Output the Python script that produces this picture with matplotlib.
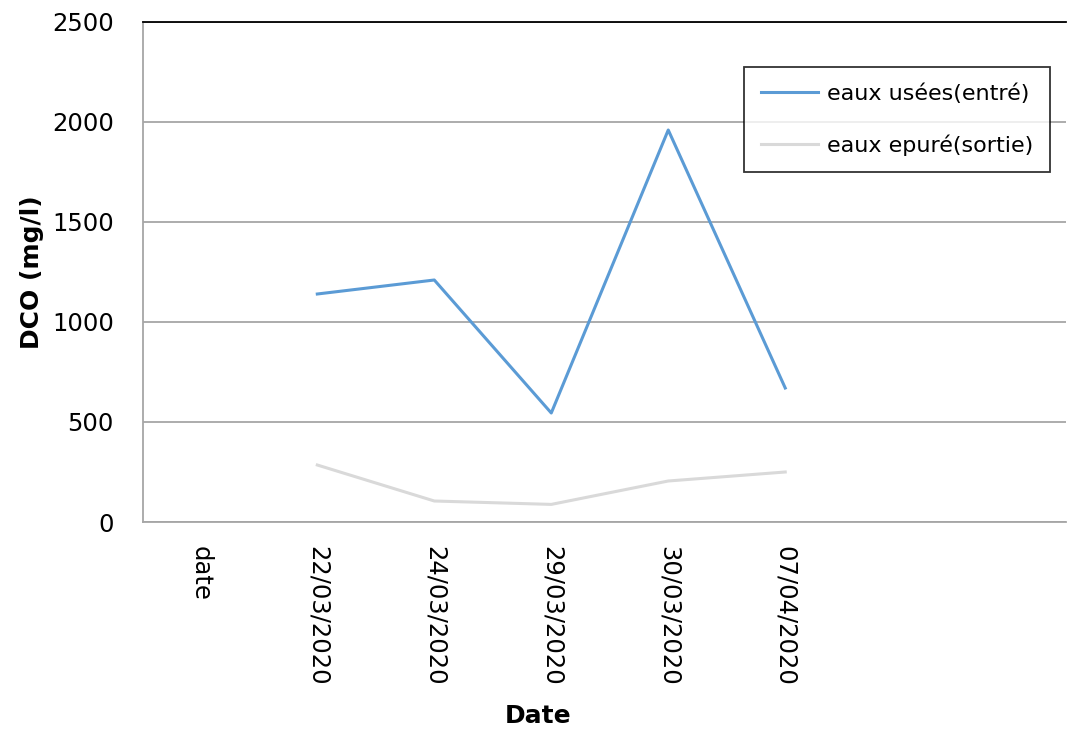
import matplotlib.pyplot as plt

categories = ['date', '22/03/2020', '24/03/2020', '29/03/2020', '30/03/2020', '07/04/2020']
entree = [None, 1140, 1210, 545, 1960, 670]
sortie = [None, 285, 105, 88, 205, 250]

plt.rcParams['font.family'] = ['DejaVu Sans']

fig = plt.figure(figsize=(10.69, 7.31), dpi=100)
ax = fig.add_axes([143 / 1069, 1 - 522 / 731, (1066 - 143) / 1069, 500 / 731])

x = list(range(len(categories)))
xs = [i for i, v in zip(x, entree) if v is not None]
ax.plot(xs, [v for v in entree if v is not None], color='#5b9bd5', lw=2.2,
        label='eaux usées(entré)')
ax.plot(xs, [v for v in sortie if v is not None], color='#d9d9d9', lw=2.2,
        label='eaux epuré(sortie)')

ax.set_ylim(0, 2500)
ax.set_yticks(range(0, 2501, 500))
ax.set_xlim(-0.49, 7.4)
ax.set_xticks(x)
ax.set_xticklabels(categories, rotation=270, fontsize=17.5, va='top', ha='center')
ax.tick_params(axis='y', labelsize=17.5, length=0, pad=21)
ax.tick_params(axis='x', length=0, pad=17)
ax.grid(axis='y', color='#a6a6a6', lw=1.3)
ax.set_axisbelow(True)

for s in ['left', 'bottom']:
    ax.spines[s].set_color('#a6a6a6')
    ax.spines[s].set_linewidth(1.3)
ax.spines['top'].set_color('black')
ax.spines['top'].set_linewidth(1.3)
ax.spines['right'].set_visible(False)

ax.set_ylabel('DCO (mg/l)', fontsize=18, fontweight='bold')
ax.yaxis.set_label_coords(-(143 - 44) / 923, 0.5)
ax.set_xlabel('Date', fontsize=18, fontweight='bold')
ax.xaxis.set_label_coords((538 - 143) / 923, -(704 - 522) / 500)

leg = ax.legend(loc='upper left', bbox_to_anchor=((744 - 143) / 923, 1 - (67 - 22) / 500),
                borderaxespad=0, fontsize=16, frameon=True, fancybox=False,
                edgecolor='black', handlelength=2.6, labelspacing=1.35,
                borderpad=0.75, handletextpad=0.4)
leg.get_frame().set_linewidth(1.3)

fig.savefig('out.png', dpi=100)
